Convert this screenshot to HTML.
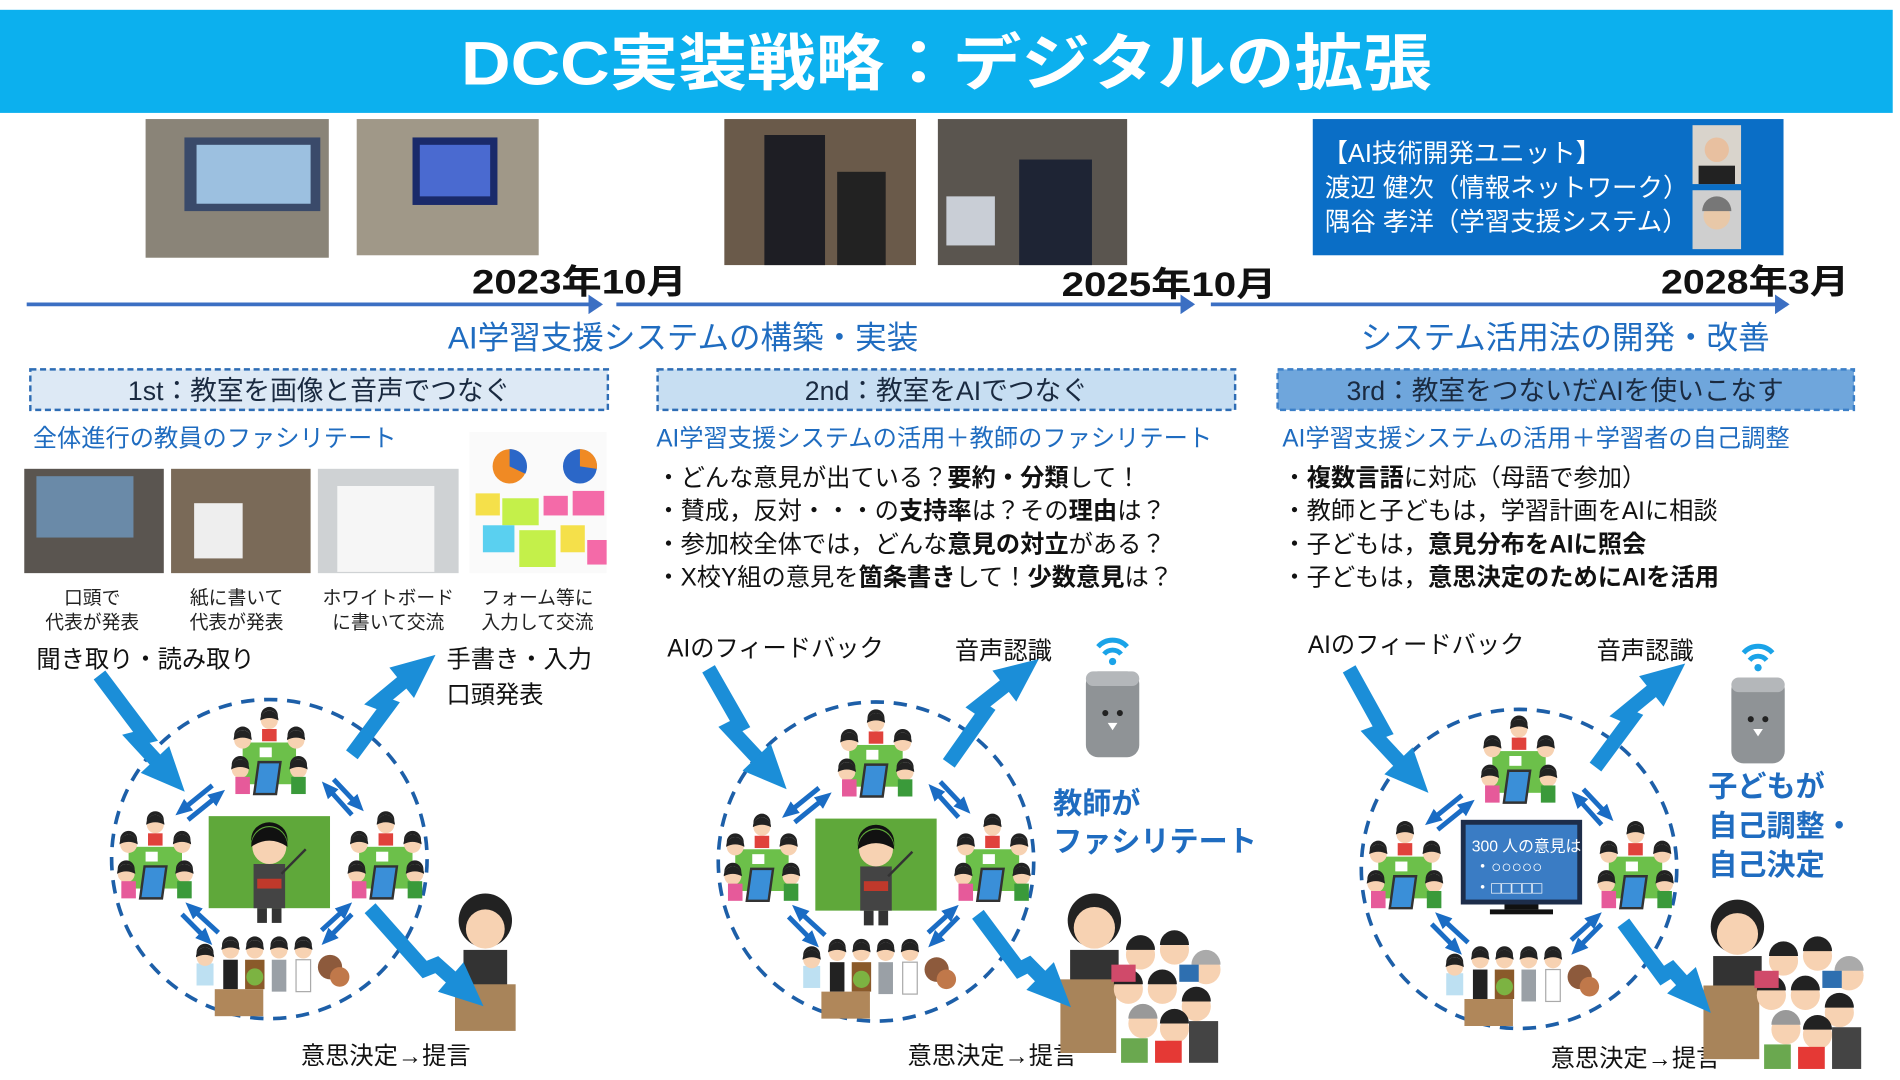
<!DOCTYPE html>
<html><head><meta charset="utf-8"><style>
html,body{margin:0;padding:0;background:#fff;width:1900px;height:1080px;overflow:hidden}
svg{display:block}
text{font-family:"Liberation Sans","Noto Sans CJK JP",sans-serif}
</style></head><body>
<svg width="1900" height="1080" viewBox="0 0 1566 880" preserveAspectRatio="none" xmlns="http://www.w3.org/2000/svg">
<defs>
<marker id="ah" markerUnits="userSpaceOnUse" markerWidth="40" markerHeight="40" refX="20" refY="20" orient="auto"><path d="M2,4 L38,20 L2,36 Z" fill="#1b8ed8"/></marker>
<marker id="sh" markerUnits="userSpaceOnUse" markerWidth="14" markerHeight="14" refX="7" refY="7" orient="auto"><path d="M0,1 L14,7 L0,13 Z" fill="#1a6cc4"/></marker>
<marker id="th" markerUnits="userSpaceOnUse" markerWidth="12" markerHeight="16" refX="10" refY="8" orient="auto"><path d="M0,0 L12,8 L0,16 Z" fill="#3b6fc3"/></marker>
<g id="face"><circle r="7" fill="#f7d2b2"/><path d="M-7,-1 A7,7 0 0 1 7,-1 L7,-4 A7,7 0 0 0 -7,-4Z" fill="#222"/><path d="M-7.5,0 A7.5,8 0 0 1 7.5,0 Q0,-4 -7.5,0Z" fill="#222"/></g>
<g id="cl">
<rect x="-22" y="-10" width="44" height="34" fill="#6cc04a"/>
<use href="#face" x="0" y="-28"/><rect x="-6" y="-21" width="12" height="10" fill="#e0423c"/>
<use href="#face" x="-22" y="-12"/><use href="#face" x="22" y="-12"/>
<use href="#face" x="-24" y="12"/><use href="#face" x="24" y="12"/>
<rect x="-28" y="18" width="12" height="14" fill="#e65a9a"/><rect x="18" y="18" width="12" height="14" fill="#3a9a3a"/>
<rect x="-8" y="6" width="18" height="26" fill="#3a8fd8" stroke="#333" stroke-width="2" transform="skewX(-8)"/>
<rect x="-8" y="-6" width="10" height="8" fill="#fff"/>
</g>
<g id="bottomppl">
<rect x="-60" y="-15" width="14" height="18" fill="#bde0f2"/><use href="#face" x="-53" y="-20"/>
<use href="#face" x="-32" y="-26"/><rect x="-38" y="-18" width="12" height="24" fill="#222"/>
<use href="#face" x="-12" y="-26"/><rect x="-20" y="-18" width="16" height="24" fill="#8a5a2a"/><circle cx="-12" cy="-4" r="7" fill="#7cb342"/>
<use href="#face" x="8" y="-26"/><rect x="2" y="-18" width="12" height="26" fill="#9aa0a6"/>
<use href="#face" x="28" y="-26"/><rect x="22" y="-18" width="12" height="26" fill="#fff" stroke="#aaa"/>
<circle cx="50" cy="-12" r="10" fill="#8d5a3c"/><circle cx="58" cy="-4" r="8" fill="#c0784a"/>
<rect x="-45" y="6" width="40" height="22" fill="#b0875a"/>
</g>
<g id="crowd">
<circle cx="0" cy="0" r="22" fill="#222"/><circle cx="0" cy="6" r="17" fill="#f7d2b2"/><rect x="-20" y="24" width="40" height="30" fill="#333"/>
<rect x="-28" y="48" width="46" height="60" fill="#a8845a"/>
<circle cx="38" cy="28" r="12" fill="#f7d2b2"/><path d="M26,24 A12,12 0 0 1 50,24Z" fill="#222"/>
<circle cx="66" cy="24" r="12" fill="#f7d2b2"/><path d="M54,20 A12,12 0 0 1 78,20Z" fill="#222"/>
<circle cx="92" cy="40" r="12" fill="#f7d2b2"/><path d="M80,36 A12,12 0 0 1 104,36Z" fill="#aaa"/>
<circle cx="28" cy="56" r="12" fill="#f7d2b2"/><path d="M16,52 A12,12 0 0 1 40,52Z" fill="#222"/>
<circle cx="56" cy="56" r="12" fill="#f7d2b2"/><path d="M44,52 A12,12 0 0 1 68,52Z" fill="#222"/>
<circle cx="84" cy="70" r="12" fill="#f7d2b2"/><path d="M72,66 A12,12 0 0 1 96,66Z" fill="#222"/>
<circle cx="40" cy="84" r="12" fill="#f7d2b2"/><path d="M28,80 A12,12 0 0 1 52,80Z" fill="#999"/>
<circle cx="66" cy="88" r="12" fill="#f7d2b2"/><path d="M54,84 A12,12 0 0 1 78,84Z" fill="#222"/>
<rect x="22" y="96" width="22" height="20" fill="#6aa84f"/><rect x="50" y="98" width="22" height="18" fill="#e53935"/><rect x="78" y="82" width="24" height="34" fill="#444"/>
<rect x="14" y="36" width="20" height="14" fill="#d04a6a"/><rect x="70" y="36" width="16" height="14" fill="#2e6fb0"/>
</g>
<g id="teach">
<rect x="-50" y="-37" width="100" height="75" fill="#5fa83a"/>
<circle cx="0" cy="-12" r="14" fill="#f7d2b2"/><path d="M-15,-14 A15,15 0 0 1 15,-14 L15,-18 A15,14 0 0 0 -15,-18Z" fill="#111"/><path d="M-15,-12 A15,16 0 0 1 15,-12 Q0,-22 -15,-12Z" fill="#111"/>
<rect x="-13" y="2" width="26" height="36" fill="#444"/><rect x="-10" y="38" width="8" height="12" fill="#333"/><rect x="2" y="38" width="8" height="12" fill="#333"/>
<rect x="-10" y="14" width="20" height="8" fill="#c0392b"/><line x1="10" y1="10" x2="30" y2="-10" stroke="#333" stroke-width="2"/>
</g>
<g id="spk">
<path d="M-12,-48 a16,16 0 0 1 24,0" fill="none" stroke="#1aa3e8" stroke-width="4"/><path d="M-7,-42 a9,9 0 0 1 14,0" fill="none" stroke="#1aa3e8" stroke-width="4"/><circle cx="0" cy="-36" r="3" fill="#1aa3e8"/>
<rect x="-22" y="-28" width="44" height="70" rx="10" fill="#8f9396"/><rect x="-22" y="-28" width="44" height="12" rx="6" fill="#b4b7ba"/>
<circle cx="-6" cy="6" r="2.5" fill="#222"/><circle cx="6" cy="6" r="2.5" fill="#222"/><path d="M-4,14 L0,20 L4,14Z" fill="#fff"/>
</g>
</defs>

<rect x="0" y="8" width="1560" height="84" fill="#0cb0ee"/>
<text x="380" y="69" font-size="50" font-weight="bold" fill="#fff" textLength="800" lengthAdjust="spacingAndGlyphs">DCC実装戦略：デジタルの拡張</text>

<rect x="120" y="97" width="151" height="113" fill="#8a8478"/><rect x="152" y="112" width="112" height="60" fill="#3a4a6a"/><rect x="162" y="118" width="94" height="48" fill="#9cc0e0"/>
<rect x="294" y="97" width="150" height="111" fill="#a09888"/><rect x="340" y="112" width="70" height="55" fill="#1a2a6a"/><rect x="346" y="118" width="58" height="42" fill="#4a6ad0"/>
<rect x="597" y="97" width="158" height="119" fill="#6a5a4a"/><rect x="630" y="110" width="50" height="106" fill="#1e1e24"/><rect x="690" y="140" width="40" height="76" fill="#222"/>
<rect x="773" y="97" width="156" height="119" fill="#5a554f"/><rect x="780" y="160" width="40" height="40" fill="#c9ced6"/><rect x="840" y="130" width="60" height="86" fill="#1e2434"/>

<rect x="1082" y="97" width="388" height="111" fill="#0a6ec6"/>
<text x="1090" y="132" font-size="21" fill="#fff">【AI技術開発ユニット】</text>
<text x="1092" y="160" font-size="21" fill="#fff">渡辺 健次（情報ネットワーク）</text>
<text x="1092" y="188" font-size="21" fill="#fff">隅谷 孝洋（学習支援システム）</text>
<rect x="1395" y="102" width="40" height="48" fill="#d9d4cc"/><circle cx="1415" cy="122" r="10" fill="#e8c0a0"/><rect x="1400" y="135" width="30" height="15" fill="#222"/>
<rect x="1395" y="155" width="40" height="48" fill="#cfcfcf"/><circle cx="1415" cy="176" r="11" fill="#e8c8a8"/><path d="M1403,172 a12,12 0 0 1 24,0Z" fill="#777"/>

<g font-size="28" font-weight="bold" fill="#111" lengthAdjust="spacingAndGlyphs">
<text x="389" y="239" textLength="177" lengthAdjust="spacingAndGlyphs">2023年10月</text><text x="875" y="241" textLength="177" lengthAdjust="spacingAndGlyphs">2025年10月</text><text x="1369" y="239" textLength="155" lengthAdjust="spacingAndGlyphs">2028年3月</text></g>
<g stroke="#3b6fc3" stroke-width="3">
<line x1="22" y1="248" x2="495" y2="248" marker-end="url(#th)"/>
<line x1="508" y1="248" x2="983" y2="248" marker-end="url(#th)"/>
<line x1="998" y1="248" x2="1473" y2="248" marker-end="url(#th)"/></g>
<text x="563" y="284" font-size="26" fill="#1f6cc0" text-anchor="middle">AI学習支援システムの構築・実装</text>
<text x="1290" y="284" font-size="26" fill="#1f6cc0" text-anchor="middle">システム活用法の開発・改善</text>

<rect x="25" y="301" width="476" height="33" fill="#dde9f5" stroke="#2e6db5" stroke-width="2" stroke-dasharray="5,3"/>
<rect x="542" y="301" width="476" height="33" fill="#c7def2" stroke="#2e6db5" stroke-width="2" stroke-dasharray="5,3"/>
<rect x="1053" y="301" width="475" height="33" fill="#6fa6dc" stroke="#3b7fc8" stroke-width="2" stroke-dasharray="5,3"/>
<g font-size="22" fill="#1a2a40" text-anchor="middle">
<text x="263" y="326">1st：教室を画像と音声でつなぐ</text>
<text x="780" y="326">2nd：教室をAIでつなぐ</text>
<text x="1290" y="326">3rd：教室をつないだAIを使いこなす</text></g>

<g font-size="20" fill="#1f6cc0">
<text x="27" y="364">全体進行の教員のファシリテート</text>
<text x="541" y="364">AI学習支援システムの活用＋教師のファシリテート</text>
<text x="1057" y="364">AI学習支援システムの活用＋学習者の自己調整</text></g>

<rect x="20" y="382" width="115" height="85" fill="#5a5550"/><rect x="30" y="388" width="80" height="50" fill="#6a8aa8"/>
<rect x="141" y="382" width="115" height="85" fill="#7a6a58"/><rect x="160" y="410" width="40" height="45" fill="#eee"/>
<rect x="262" y="382" width="116" height="85" fill="#cfd2d4"/><rect x="278" y="396" width="80" height="70" fill="#f6f6f6"/>
<rect x="387" y="352" width="113" height="115" fill="#fafafa"/>
<circle cx="420" cy="380" r="14" fill="#f08a24"/><path d="M420,380 L420,366 A14,14 0 0 1 433,386Z" fill="#2b67c8"/>
<circle cx="478" cy="380" r="14" fill="#2b67c8"/><path d="M478,380 L478,366 A14,14 0 0 1 492,382Z" fill="#f08a24"/>
<rect x="392" y="402" width="20" height="18" fill="#f5e04a"/><rect x="414" y="406" width="30" height="22" fill="#c4f04a"/><rect x="448" y="404" width="20" height="16" fill="#f46aa8"/><rect x="472" y="400" width="26" height="20" fill="#f46aa8"/>
<rect x="398" y="428" width="26" height="22" fill="#5ad0f0"/><rect x="428" y="432" width="30" height="30" fill="#c4f04a"/><rect x="462" y="428" width="20" height="22" fill="#f5e04a"/><rect x="484" y="440" width="16" height="20" fill="#f46aa8"/>
<g font-size="15.5" fill="#222" text-anchor="middle">
<text x="76" y="492">口頭で</text><text x="76" y="512">代表が発表</text>
<text x="195" y="492">紙に書いて</text><text x="195" y="512">代表が発表</text>
<text x="320" y="492">ホワイトボード</text><text x="320" y="512">に書いて交流</text>
<text x="443" y="492">フォーム等に</text><text x="443" y="512">入力して交流</text></g>
<g font-size="20" fill="#111">
<text x="30" y="544">聞き取り・読み取り</text><text x="368" y="544">手書き・入力</text><text x="368" y="573">口頭発表</text></g>

<g font-size="20" fill="#111">
<text x="541" y="396">・どんな意見が出ている？<tspan font-weight="bold">要約・分類</tspan>して！</text>
<text x="541" y="423">・賛成，反対・・・の<tspan font-weight="bold">支持率</tspan>は？その<tspan font-weight="bold">理由</tspan>は？</text>
<text x="541" y="450">・参加校全体では，どんな<tspan font-weight="bold">意見の対立</tspan>がある？</text>
<text x="541" y="477">・X校Y組の意見を<tspan font-weight="bold">箇条書き</tspan>して！<tspan font-weight="bold">少数意見</tspan>は？</text>
<text x="1057" y="396">・<tspan font-weight="bold">複数言語</tspan>に対応（母語で参加）</text>
<text x="1057" y="423">・教師と子どもは，学習計画をAIに相談</text>
<text x="1057" y="450">・子どもは，<tspan font-weight="bold">意見分布をAIに照会</tspan></text>
<text x="1057" y="477">・子どもは，<tspan font-weight="bold">意思決定のためにAIを活用</tspan></text></g>

<g font-size="20" fill="#111">
<text x="550" y="535">AIのフィードバック</text><text x="787" y="537">音声認識</text>
<text x="1078" y="532">AIのフィードバック</text><text x="1316" y="537">音声認識</text>
<text x="248" y="867">意思決定→提言</text><text x="748" y="867">意思決定→提言</text><text x="1278" y="869">意思決定→提言</text></g>
<g font-size="24" font-weight="bold" fill="#1f6cc0">
<text x="868" y="663">教師が</text><text x="868" y="694">ファシリテート</text>
<text x="1408" y="649">子どもが</text><text x="1408" y="681">自己調整・</text><text x="1408" y="713">自己決定</text></g>

<g fill="none" stroke="#1d5fa8" stroke-width="3" stroke-dasharray="11,8">
<circle cx="222" cy="700" r="130"/><circle cx="722" cy="702" r="130"/><circle cx="1252" cy="708" r="130"/></g>

<use href="#cl" x="222" y="615"/><use href="#cl" x="128" y="700"/><use href="#cl" x="318" y="700"/><use href="#bottomppl" x="222" y="800"/><use href="#teach" x="222" y="702"/>
<use href="#cl" x="722" y="617"/><use href="#cl" x="628" y="702"/><use href="#cl" x="818" y="702"/><use href="#bottomppl" x="722" y="802"/><use href="#teach" x="722" y="704"/>
<use href="#cl" x="1252" y="622"/><use href="#cl" x="1158" y="708"/><use href="#cl" x="1348" y="708"/><use href="#bottomppl" x="1252" y="808"/>
<rect x="1206" y="670" width="96" height="65" fill="#3a7cc4" stroke="#1d2d4a" stroke-width="4"/><rect x="1240" y="737" width="28" height="4" fill="#111"/><rect x="1228" y="741" width="52" height="4" fill="#111"/>
<text x="1213" y="694" font-size="13" fill="#fff">300 人の意見は</text><text x="1215" y="711" font-size="14" fill="#fff">・○○○○○</text><text x="1215" y="728" font-size="14" fill="#fff">・□□□□□</text>

<circle cx="400" cy="750" r="22" fill="#222"/><circle cx="400" cy="757" r="16" fill="#f7d2b2"/><rect x="382" y="774" width="36" height="30" fill="#333"/><rect x="375" y="802" width="50" height="38" fill="#a8845a"/>
<use href="#crowd" x="902" y="750"/><use href="#crowd" x="1432" y="755"/>

<use href="#spk" x="917" y="575"/><use href="#spk" x="1449" y="580"/>

<g stroke="#1b8ed8" stroke-width="12" fill="none" marker-end="url(#ah)">
<path d="M82,550 L120,600 L112,602 L140,632"/>
<path d="M290,615 L320,575 L312,572 L345,545"/>
<path d="M305,740 L350,790 L360,786 L385,808"/>
<path d="M584,545 L610,590 L602,594 L636,630"/>
<path d="M782,622 L812,580 L806,576 L842,548"/>
<path d="M806,745 L840,790 L848,786 L870,808"/>
<path d="M1112,545 L1140,595 L1132,598 L1165,633"/>
<path d="M1315,625 L1345,585 L1338,582 L1375,552"/>
<path d="M1338,752 L1370,795 L1378,790 L1398,812"/>
</g>
<g stroke="#1a6cc4" stroke-width="4" marker-end="url(#sh)">
<line x1="175" y1="640" x2="150" y2="660"/><line x1="155" y1="668" x2="180" y2="648"/>
<line x1="275" y1="635" x2="295" y2="656"/><line x1="290" y1="664" x2="270" y2="642"/>
<line x1="150" y1="745" x2="170" y2="765"/><line x1="180" y1="760" x2="158" y2="740"/>
<line x1="290" y1="745" x2="270" y2="765"/><line x1="265" y1="758" x2="285" y2="740"/>
<line x1="675" y1="642" x2="650" y2="662"/><line x1="655" y1="670" x2="680" y2="650"/>
<line x1="775" y1="637" x2="795" y2="658"/><line x1="790" y1="666" x2="770" y2="644"/>
<line x1="650" y1="747" x2="670" y2="767"/><line x1="680" y1="762" x2="658" y2="742"/>
<line x1="790" y1="747" x2="770" y2="767"/><line x1="765" y1="760" x2="785" y2="742"/>
<line x1="1205" y1="648" x2="1180" y2="668"/><line x1="1185" y1="676" x2="1210" y2="656"/>
<line x1="1305" y1="643" x2="1325" y2="664"/><line x1="1320" y1="672" x2="1300" y2="650"/>
<line x1="1180" y1="753" x2="1200" y2="773"/><line x1="1210" y1="768" x2="1188" y2="748"/>
<line x1="1320" y1="753" x2="1300" y2="773"/><line x1="1295" y1="766" x2="1315" y2="748"/>
</g>
</svg>
</body></html>
